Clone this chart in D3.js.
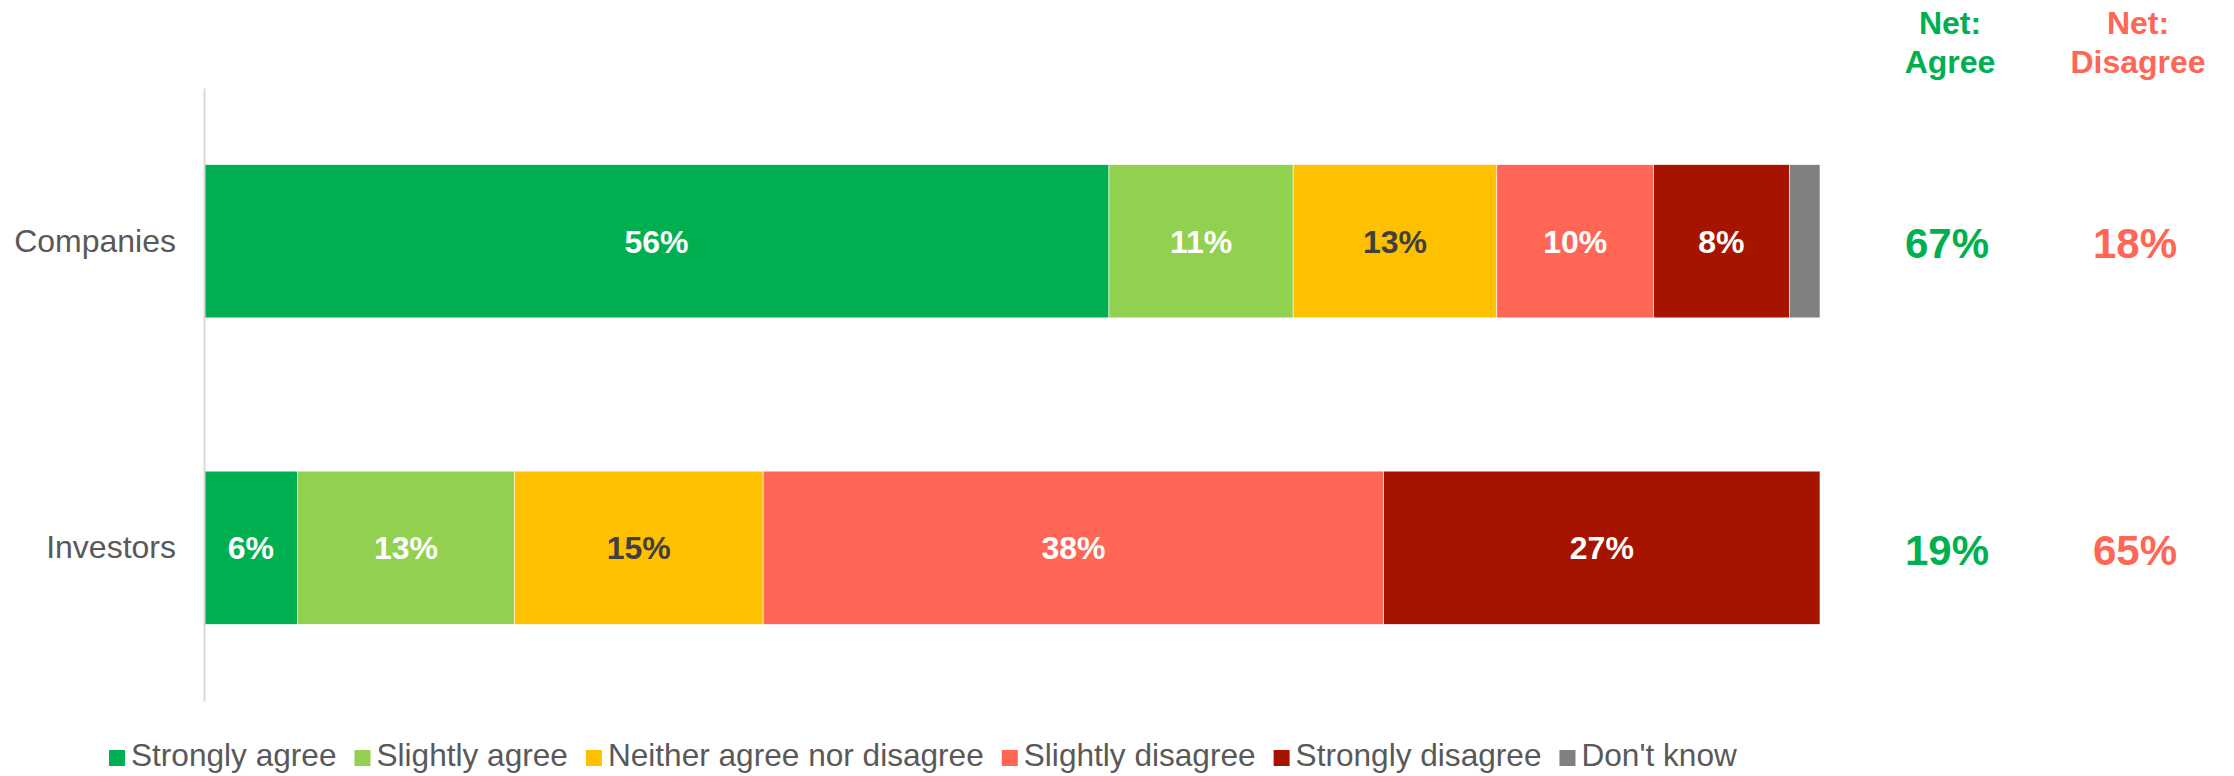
<!DOCTYPE html>
<html>
<head>
<meta charset="utf-8">
<script src="https://cdn.jsdelivr.net/npm/d3@7"></script>
<style>
  html, body { margin: 0; padding: 0; background: #fff; }
  svg { display: block; font-family: "Liberation Sans", Arial, sans-serif; }
</style>
</head>
<body>
<div id="chart"></div>
<script>
const WIDTH = 2234, HEIGHT = 776

// ── data ──────────────────────────────────────────────
const groups = ['Companies', 'Investors']
const responses = ['Strongly agree', 'Slightly agree', 'Neither agree nor disagree',
  'Slightly disagree', 'Strongly disagree', "Don't know"]
const colors = ['#00B050', '#92D050', '#FFC000', '#FF6655', '#A61400', '#808080']
const labelColors = ['#fff', '#fff', '#404040', '#fff', '#fff', '#fff']
const companies = [56.0, 11.4, 12.6, 9.7, 8.4, 1.9]
const investors = [5.8, 13.4, 15.4, 38.4, 27.0, 0]
const values = [companies, investors]
const netHeaders = [['Net:', 'Agree'], ['Net:', 'Disagree']]
const netColors = ['#00B050', '#FF6655']

const svg = d3.select('#chart').append('svg').attr('width', WIDTH).attr('height', HEIGHT)

const x = d3.scaleLinear().domain([0, 100]).range([204, 1820])
const y = d3.scaleBand().domain(groups).range([88, 701]).paddingInner(0.5).paddingOuter(0.25)

// stacked rows
const rows = groups.map((g, gi) => {
  let acc = 0
  return values[gi].map((v, i) => {
    const seg = { group: g, i, v, x0: acc, x1: acc + v }
    acc += v
    return seg
  })
})

// ── bars ──────────────────────────────────────────────
const gBars = svg.append('g')
rows.forEach(row => {
  const g = gBars.append('g')
  g.selectAll('rect').data(row.filter(d => d.v > 0)).join('rect')
    .attr('x', d => x(d.x0)).attr('width', d => x(d.x1) - x(d.x0))
    .attr('y', d => y(d.group)).attr('height', y.bandwidth())
    .attr('fill', d => colors[d.i])
    .attr('stroke', '#fff').attr('stroke-width', 0.6)
  g.selectAll('text').data(row.filter(d => d.v >= 4)).join('text')
    .attr('x', d => (x(d.x0) + x(d.x1)) / 2)
    .attr('y', d => y(d.group) + y.bandwidth() / 2 + 11.5)
    .attr('text-anchor', 'middle')
    .attr('fill', d => labelColors[d.i])
    .style('font-size', '32px').style('font-weight', 'bold')
    .text(d => `${Math.round(d.v)}%`)
})

// axis line + category labels
const yAxis = svg.append('g').attr('transform', `translate(${x(0)},0)`)
  .call(d3.axisLeft(y).tickSize(0).tickPadding(28))
yAxis.select('.domain').attr('stroke', '#d9d9d9').attr('stroke-width', 2)
yAxis.selectAll('text').style('font-size', '32px').attr('fill', '#595959')
  .style('font-family', '"Liberation Sans", Arial, sans-serif')

// ── net columns ───────────────────────────────────────
const netX = [1950, 2138]
netHeaders.forEach((lines, c) => {
  const t = svg.append('text').attr('text-anchor', 'middle').attr('fill', netColors[c])
    .style('font-size', '32px').style('font-weight', 'bold')
  lines.forEach((ln, k) => t.append('tspan').attr('x', netX[c]).attr('y', 34 + k * 39).text(ln))
})
groups.forEach((g, gi) => {
  const v = values[gi]
  const nets = [v[0] + v[1], v[3] + v[4]]
  nets.forEach((n, c) => {
    svg.append('text').attr('x', netX[c] - 3).attr('y', y(g) + y.bandwidth() / 2 + 17)
      .attr('text-anchor', 'middle').attr('fill', netColors[c])
      .style('font-size', '42px').style('font-weight', 'bold')
      .text(`${Math.round(n)}%`)
  })
})

// ── legend ────────────────────────────────────────────
const legend = svg.append('g').attr('transform', 'translate(109,766)')
let lx = 0
responses.forEach((r, i) => {
  const item = legend.append('g').attr('transform', `translate(${lx},0)`)
  item.append('rect').attr('x', 0).attr('y', -16).attr('width', 16).attr('height', 16).attr('fill', colors[i])
  const t = item.append('text').attr('x', 22).attr('y', 0).attr('fill', '#595959')
    .style('font-size', '31.6px').text(r)
  lx += 22 + t.node().getComputedTextLength() + 18
})
</script>
</body>
</html>
